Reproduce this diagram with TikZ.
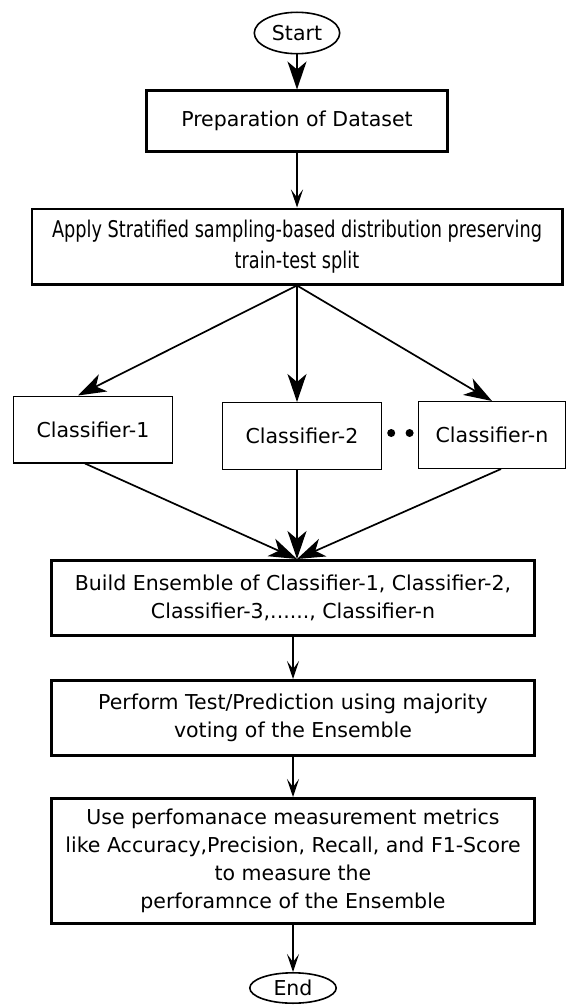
\documentclass[tikz,border=0pt]{standalone}
\usepackage{fontspec}
\setmainfont{DejaVu Sans}
\newfontfamily\narrowfont[FakeStretch=0.77]{DejaVu Sans}
\usetikzlibrary{shapes.geometric, arrows.meta, positioning, calc}

\begin{document}
\begin{tikzpicture}[
    node distance=35pt,
    terminal/.style={ellipse, draw, line width=1.6pt, minimum width=85.4pt,
                  minimum height=41.4pt, inner sep=0pt, font=\fontsize{20.5}{28}\selectfont},
    process/.style={rectangle, draw, line width=2.6pt, minimum width=483.4pt,
                  minimum height=75.4pt, align=center, inner sep=0pt,
                  font=\fontsize{20.5}{28}\selectfont},
    clfbox/.style={rectangle, draw, line width=1.4pt, minimum width=158.6pt,
                  minimum height=66.6pt, inner sep=0pt, font=\fontsize{20.5}{28}\selectfont},
    dotmark/.style={circle, fill, inner sep=0pt, minimum size=8pt},
    bigarrow/.style={-{Stealth[length=28pt, width=19pt, inset=8pt]}, line width=1.7pt},
    thinarrow/.style={-{Stealth[length=18pt, width=12pt, inset=8pt]}, line width=1.2pt}
]
    \useasboundingbox (0,0) rectangle (568pt,-1006pt);

    % Main steps
    \node[terminal] (start) at (297pt,-33pt) {Start};
    \node[process, minimum width=301.4pt, minimum height=60.4pt, below=35pt of start] (prep) {Preparation of Dataset};
    \node[process, minimum width=530.4pt, below=55pt of prep,
          font=\narrowfont\fontsize{23}{31}\selectfont] (apply) {Apply Stratified sampling-based distribution preserving\\train-test split};

    % Classifiers
    \node[clfbox, below=110pt of apply, xshift=-204pt] (clf1) {Classifier-1};
    \node[clfbox, below=116.5pt of apply, xshift=5pt] (clf2) {Classifier-2};
    \node[clfbox, minimum width=146.6pt, below=115.5pt of apply, xshift=195pt] (clfn) {Classifier-n};
    \node[dotmark, right=5pt of clf2, yshift=3pt] (dota) {};
    \node[dotmark, right=10pt of dota] (dotb) {};

    % Ensemble and evaluation
    \node[process, below=89pt of clf2, xshift=-9pt] (build) {Build Ensemble of Classifier-1, Classifier-2,\\Classifier-3,......, Classifier-n};
    \node[process, below=42pt of build] (perform) {Perform Test/Prediction using majority\\voting of the Ensemble};
    \node[process, minimum height=125.4pt, below=40pt of perform] (use) {Use perfomanace measurement metrics\\like Accuracy,Precision, Recall, and F1-Score\\to measure the\\perforamnce of the Ensemble};
    \node[terminal, minimum width=86.4pt, minimum height=30.4pt, below=47pt of use] (stop) {End};

    % Arrows
    \draw[bigarrow] (start) -- (prep);
    \draw[thinarrow] (prep) -- (apply);
    \draw[bigarrow] (apply.south) -- ([xshift=-15pt]clf1.north);
    \draw[bigarrow] (apply.south) -- ([xshift=-5pt]clf2.north);
    \draw[bigarrow] (apply.south) -- (clfn.north);
    \draw[bigarrow] ([xshift=-8pt]clf1.south) -- ([xshift=4pt]build.north);
    \draw[bigarrow] ([xshift=-5pt]clf2.south) -- ([xshift=4pt]build.north);
    \draw[bigarrow] ([xshift=9pt]clfn.south) -- ([xshift=4pt]build.north);
    \draw[thinarrow] (build) -- (perform);
    \draw[thinarrow] (perform) -- (use);
    \draw[thinarrow] (use) -- (stop);
\end{tikzpicture}
\end{document}
